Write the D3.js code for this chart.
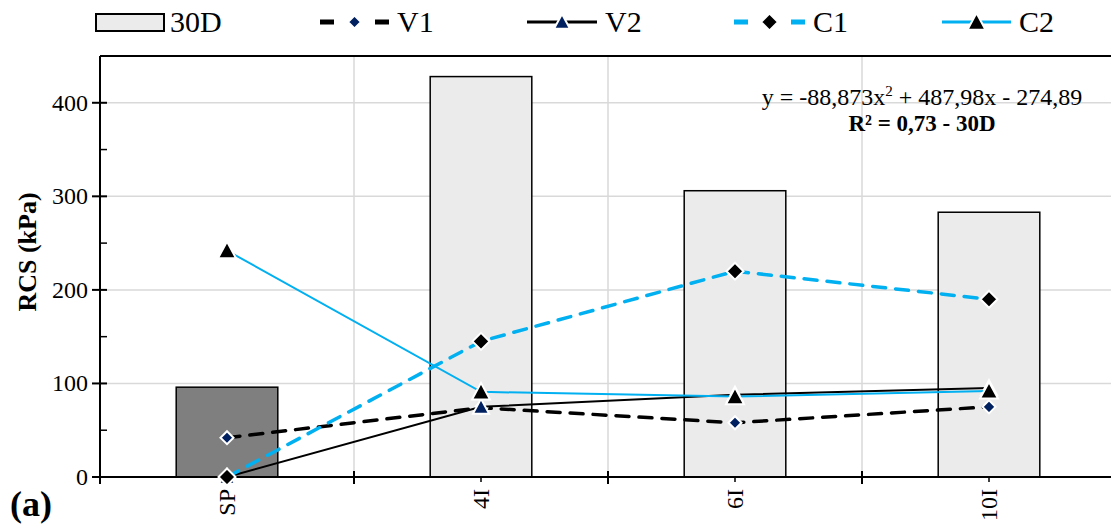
<!DOCTYPE html>
<html>
<head>
<meta charset="utf-8">
<script src="https://cdn.jsdelivr.net/npm/d3@7"></script>
<style>
  body { margin: 0; background: #fff; }
  svg { display: block; font-family: "Liberation Serif", "Times New Roman", serif; }
</style>
</head>
<body>
<svg id="chart" width="1111" height="524"></svg>
<script>
const categories = ["SP", "4I", "6I", "10I"];
const bar30D = [96, 428, 306, 283];
const V1 = [42, 74, 58, 75];
const V2 = [0, 75, 88, 95];
const C1 = [0, 145, 220, 190];
const C2 = [242, 91, 86, 92];
const yTicks = [0, 100, 200, 300, 400];
const yMinorTicks = [50, 150, 250, 350];

const svg = d3.select("#chart");
const pLeft = 100, pRight = 1116, pTop = 56, pBottom = 477;

const x = d3.scalePoint().domain(categories).range([pLeft, pRight]).padding(0.5);
const xb = d3.scaleBand().domain(categories).range([pLeft, pRight]).paddingInner(0.6).paddingOuter(0.3);
const step = (pRight - pLeft) / categories.length;
const y = d3.scaleLinear().domain([0, 450]).range([pBottom, pTop]);

// gridlines
const grid = svg.append("g");
grid.selectAll("line.h").data(yTicks.filter(d => d > 0)).join("line")
  .attr("x1", pLeft).attr("x2", pRight).attr("y1", d => y(d)).attr("y2", d => y(d))
  .attr("stroke", "#d9d9d9").attr("stroke-width", 1.5);
const bounds = d3.range(1, categories.length).map(i => pLeft + i * step);
grid.selectAll("line.v").data(bounds).join("line")
  .attr("x1", d => d).attr("x2", d => d).attr("y1", pTop).attr("y2", pBottom)
  .attr("stroke", "#d9d9d9").attr("stroke-width", 1.5);
// top border
svg.append("line").attr("x1", pLeft).attr("x2", pRight).attr("y1", pTop).attr("y2", pTop)
  .attr("stroke", "#000").attr("stroke-width", 2);

// bars
svg.append("g").selectAll("rect").data(bar30D).join("rect")
  .attr("x", (d, i) => xb(categories[i]))
  .attr("width", xb.bandwidth())
  .attr("y", d => y(d))
  .attr("height", d => pBottom - y(d))
  .attr("fill", (d, i) => i === 0 ? "#7f7f7f" : "#ebebeb")
  .attr("stroke", "#000").attr("stroke-width", 1.5);

// axes
const yAxis = svg.append("g");
yAxis.append("line").attr("x1", pLeft).attr("x2", pLeft).attr("y1", pTop).attr("y2", pBottom + 7)
  .attr("stroke", "#000").attr("stroke-width", 2);
yAxis.selectAll("line.maj").data(yTicks).join("line")
  .attr("x1", pLeft - 8).attr("x2", pLeft + 7).attr("y1", d => y(d)).attr("y2", d => y(d))
  .attr("stroke", "#000").attr("stroke-width", 2);
yAxis.selectAll("line.min").data(yMinorTicks).join("line")
  .attr("x1", pLeft).attr("x2", pLeft + 7).attr("y1", d => y(d)).attr("y2", d => y(d))
  .attr("stroke", "#000").attr("stroke-width", 1.5);
yAxis.selectAll("text").data(yTicks).join("text")
  .attr("x", pLeft - 12).attr("y", d => y(d) + 8)
  .attr("text-anchor", "end").attr("font-size", 24).text(d => d);

const xAxis = svg.append("g");
xAxis.append("line").attr("x1", pLeft).attr("x2", pRight).attr("y1", pBottom).attr("y2", pBottom)
  .attr("stroke", "#000").attr("stroke-width", 2);
xAxis.selectAll("line.maj").data(bounds).join("line")
  .attr("x1", d => d).attr("x2", d => d).attr("y1", pBottom - 6).attr("y2", pBottom + 7)
  .attr("stroke", "#000").attr("stroke-width", 2);
xAxis.selectAll("line.min").data(categories).join("line")
  .attr("x1", d => x(d)).attr("x2", d => x(d)).attr("y1", pBottom).attr("y2", pBottom + 5)
  .attr("stroke", "#000").attr("stroke-width", 1.5);
xAxis.selectAll("text").data(categories).join("text")
  .attr("transform", d => `translate(${x(d) + 8},${pBottom + 12}) rotate(-90)`)
  .attr("text-anchor", "end").attr("font-size", 24).text(d => d);

// series
const diamond = r => `M0,${-r}L${r},0L0,${r}L${-r},0Z`;
const triangle = r => `M0,${-r}L${r},${r * 0.85}L${-r},${r * 0.85}Z`;
const series = [
  { name: "V1", data: V1, color: "#000", width: 3.5, dash: "13,10", marker: diamond(6.5), mfill: "#002060" },
  { name: "V2", data: V2, color: "#000", width: 2, dash: null, marker: triangle(8), mfill: "#002060" },
  { name: "C1", data: C1, color: "#00b0f0", width: 3.5, dash: "13,10", marker: diamond(8.5), mfill: "#000" },
  { name: "C2", data: C2, color: "#00b0f0", width: 2, dash: null, marker: triangle(9), mfill: "#000" }
];
const line = d3.line().x((d, i) => x(categories[i])).y(d => y(d));
series.forEach(s => {
  const g = svg.append("g");
  g.append("path").attr("d", line(s.data)).attr("fill", "none")
    .attr("stroke", s.color).attr("stroke-width", s.width)
    .attr("stroke-dasharray", s.dash).attr("stroke-linecap", s.dash ? "round" : "butt");
  g.selectAll("path.m").data(s.data).join("path")
    .attr("transform", (d, i) => `translate(${x(categories[i])},${y(d)})`)
    .attr("d", s.marker).attr("fill", s.mfill).attr("stroke", "#fff").attr("stroke-width", 2);
});

// equation
const eq = svg.append("text").attr("x", 922).attr("y", 105).attr("text-anchor", "middle").attr("font-size", 24);
eq.append("tspan").text("y = -88,873x");
eq.append("tspan").attr("dy", -9).attr("font-size", 15).text("2");
eq.append("tspan").attr("dy", 9).text(" + 487,98x - 274,89");
svg.append("text").attr("x", 922).attr("y", 131).attr("text-anchor", "middle")
  .attr("font-size", 23).attr("font-weight", "bold").text("R² = 0,73 - 30D");

// y label
svg.append("text").attr("transform", "translate(36,252) rotate(-90)")
  .attr("text-anchor", "middle").attr("font-size", 26).attr("font-weight", "bold").text("RCS  (kPa)");
// panel label
svg.append("text").attr("x", 10).attr("y", 516).attr("font-size", 36).attr("font-weight", "bold").text("(a)");

// legend
const lg = svg.append("g");
lg.append("rect").attr("x", 96).attr("y", 14).attr("width", 68).attr("height", 17)
  .attr("fill", "#ebebeb").attr("stroke", "#000").attr("stroke-width", 2);
lg.append("text").attr("x", 170).attr("y", 32).attr("font-size", 30).text("30D");
const legendItems = [
  { s: series[0], x0: 320, x1: 389 },
  { s: series[1], x0: 527, x1: 597 },
  { s: series[2], x0: 734, x1: 805 },
  { s: series[3], x0: 942, x1: 1011 }
];
legendItems.forEach(it => {
  const cy = 22;
  const len = it.x1 - it.x0;
  lg.append("line").attr("x1", it.x0).attr("x2", it.x1).attr("y1", cy).attr("y2", cy)
    .attr("stroke", it.s.color).attr("stroke-width", it.s.dash ? 5 : 3)
    .attr("stroke-dasharray", it.s.dash ? `14,${len - 28}` : null);
  lg.append("path").attr("transform", `translate(${(it.x0 + it.x1) / 2},${cy})`)
    .attr("d", it.s.marker).attr("fill", it.s.mfill).attr("stroke", "#fff").attr("stroke-width", 2);
  lg.append("text").attr("x", it.x1 + 8).attr("y", 32).attr("font-size", 30).text(it.s.name);
});
</script>
</body>
</html>
